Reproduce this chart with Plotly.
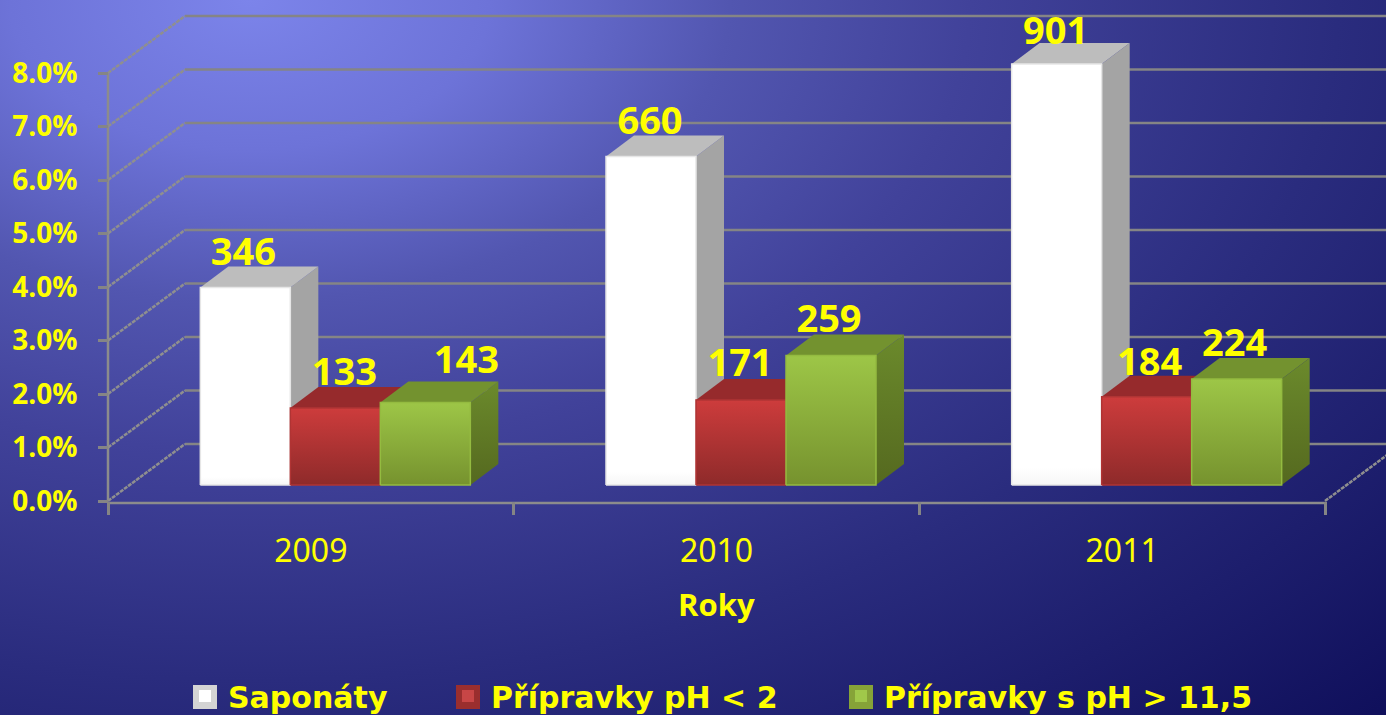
import plotly.graph_objects as go

# ---- data ----
years = ["2009", "2010", "2011"]
series_names = ["Saponáty", "Přípravky pH < 2", "Přípravky s pH > 11,5"]
saponaty = [3.69, 6.14, 7.87]
ph_low = [1.44, 1.59, 1.65]
ph_high = [1.54, 2.42, 1.98]
saponaty_labels = ["346", "660", "901"]
ph_low_labels = ["133", "171", "184"]
ph_high_labels = ["143", "259", "224"]
y_ticks = [0, 1, 2, 3, 4, 5, 6, 7, 8]
y_tick_labels = ["0.0%", "1.0%", "2.0%", "3.0%", "4.0%", "5.0%", "6.0%", "7.0%", "8.0%"]

# ---- pixel layout of the front plane ----
W, H = 1386, 715
PX_L, PX_R, PX_B, PX_T = 108, 1325, 501, 73
PX_PER_X = (PX_R - PX_L) / 3
PX_PER_Y = (PX_B - PX_T) / 8
YEL = "#ffff00"
GRID = "#858585"
FONT = "Open Sans"


def ux(px):
    return px / PX_PER_X


def uy(px):
    return px / PX_PER_Y


WALL_DX, WALL_DY = ux(77), uy(57)      # floor depth
BAR_DX, BAR_DY = ux(28), uy(21)        # depth of a bar
FLOOR = uy(16)                         # bars stand inside the floor
SHIFT = ux(24.5)                       # ... and so sit right of slot centre
BAR_W = ux(90)

styles = [
    dict(front=[[0, "#f6f6f6"], [0.04, "#ffffff"], [1, "#ffffff"]], side=[[0, "#a4a4a4"], [1, "#a4a4a4"]],
         top="#bdbdbd", edge="#e6e6e6", base="#ffffff", rim="#d4d4d4"),
    dict(front=[[0, "#8e2a2a"], [1, "#cd3c3c"]], side=[[0, "#742020"], [1, "#8a2626"]],
         top="#962a2c", edge="#b03434", base="#c84646", rim="#9a2e2e"),
    dict(front=[[0, "#76922e"], [1, "#9dc647"]], side=[[0, "#55691f"], [1, "#6b8a2c"]],
         top="#73922f", edge="#94bb40", base="#a0c84a", rim="#86a338"),
]
series = [saponaty, ph_low, ph_high]
labels = [saponaty_labels, ph_low_labels, ph_high_labels]
label_shift_px = [[-2, -1, -1], [9, -1, 3], [41, -2, -2]]
label_rise_px = [[32, 32, 29], [32, 33, 31], [39, 33, 33]]

fig = go.Figure()

# ---- page background ----
CX, CY, RX, RY = 250, 0, 1600, 1000
fig.add_trace(go.Scatter(
    x=[CX - RX, CX + RX, CX + RX, CX - RX, CX - RX],
    y=[CY - RY, CY - RY, CY + RY, CY + RY, CY - RY],
    mode="lines", line=dict(width=0), fill="toself", hoverinfo="skip", showlegend=False,
    fillgradient=dict(type="radial", colorscale=[
        [0, "#7c84ea"], [0.15, "#6d73d8"], [0.3, "#5256b0"], [0.45, "#41429a"],
        [0.68, "#2a2c7e"], [1, "#10105c"]]),
    xaxis="x", yaxis="y"))

CHART = dict(xaxis="x2", yaxis="y2", cliponaxis=False, hoverinfo="skip", showlegend=False)

# ---- real bars (carry the data and the legend) ----
slot_centres = [i + 0.5 + SHIFT for i in range(len(years))]
for s, vals in enumerate(series):
    fig.add_trace(go.Bar(
        x=slot_centres, y=vals, base=FLOOR, name=series_names[s],
        marker=dict(color=styles[s]["base"], line=dict(width=0)),
        xaxis="x2", yaxis="y2",
        legend="legend" if s == 0 else f"legend{s + 1}"))

# ---- walls ----
for v in y_ticks:
    fig.add_trace(go.Scatter(
        x=[WALL_DX, 3 + WALL_DX], y=[v + WALL_DY, v + WALL_DY],
        mode="lines", line=dict(color=GRID, width=2.5), **CHART))
    fig.add_trace(go.Scatter(
        x=[0, WALL_DX], y=[v, v + WALL_DY],
        mode="lines", line=dict(color="#8f8f8f", width=2.5, dash="4px,1px"), **CHART))
fig.add_trace(go.Scatter(
    x=[3, 3 + WALL_DX], y=[0, WALL_DY],
    mode="lines", line=dict(color="#8f8f8f", width=2.5, dash="4px,1px"), **CHART))
# axis lines
fig.add_trace(go.Scatter(x=[0, 0], y=[0, 8], mode="lines", line=dict(color="#8c8c8c", width=2.5), **CHART))
fig.add_trace(go.Scatter(x=[0, 3], y=[-uy(2), -uy(2)], mode="lines", line=dict(color="#8c8c8c", width=2.5), **CHART))


# ---- 3-D faces ----
def face(xs, ys, **kw):
    fig.add_trace(go.Scatter(x=xs, y=ys, mode="lines", fill="toself", **kw, **CHART))


for g in range(len(years)):
    for s, vals in enumerate(series):
        st = styles[s]
        left = slot_centres[g] + (s - 1.5) * BAR_W
        right = left + BAR_W
        bottom = FLOOR
        top = FLOOR + vals[g]
        # side
        face([right, right + BAR_DX, right + BAR_DX, right, right],
             [bottom, bottom + BAR_DY, top + BAR_DY, top, bottom],
             line=dict(width=0),
             fillgradient=dict(type="vertical", colorscale=st["side"], start=bottom, stop=top + BAR_DY))
        # top
        face([left, left + BAR_DX, right + BAR_DX, right, left],
             [top, top + BAR_DY, top + BAR_DY, top, top],
             line=dict(width=0), fillcolor=st["top"])
        # front with vertical shading
        face([left, right, right, left, left],
             [bottom, bottom, top, top, bottom],
             line=dict(width=1.5, color=st["edge"]),
             fillgradient=dict(type="vertical", colorscale=st["front"], start=bottom, stop=top))

# ---- value labels ----
for s, vals in enumerate(series):
    fig.add_trace(go.Scatter(
        x=[slot_centres[g] + (s - 1) * BAR_W + ux(label_shift_px[s][g]) for g in range(3)],
        y=[FLOOR + vals[g] + uy(label_rise_px[s][g]) for g in range(3)],
        text=labels[s], mode="text", textposition="middle center",
        textfont=dict(family=FONT, size=38, color=YEL, weight="bold"), **CHART))

# ---- legend swatches behind the legend icons ----
shapes = []
for px, st in zip([193, 456, 849], styles):
    shapes.append(dict(type="rect", xref="paper", yref="paper",
                       x0=px / W, x1=(px + 24) / W, y0=(H - 709) / H, y1=(H - 685) / H,
                       fillcolor=st["rim"], line=dict(width=0), layer="above"))

legend_common = dict(orientation="h", xanchor="left", yanchor="middle", y=(H - 696) / H,
                     bgcolor="rgba(0,0,0,0)", borderwidth=0, itemclick=False, itemdoubleclick=False,
                     itemwidth=36,
                     font=dict(family="DejaVu Sans", size=30, color=YEL, weight="bold"))

fig.update_layout(
    width=W, height=H, margin=dict(l=0, r=0, t=0, b=0, pad=0, autoexpand=False),
    paper_bgcolor="#10105c", plot_bgcolor="rgba(0,0,0,0)",
    barmode="group", bargap=1 - 3 * BAR_W, bargroupgap=0,
    showlegend=True, shapes=shapes,
    legend=dict(x=182 / W, **legend_common),
    legend2=dict(x=445 / W, **legend_common),
    legend3=dict(x=838 / W, **legend_common),
    annotations=[dict(text="Roky", xref="x2", yref="paper", x=1.5, y=(H - 604) / H,
                      xanchor="center", yanchor="middle", showarrow=False,
                      font=dict(family=FONT, size=31, color=YEL, weight="bold"))],
    xaxis=dict(domain=[0, 1], range=[0, W], visible=False, fixedrange=True),
    yaxis=dict(domain=[0, 1], range=[H, 0], visible=False, fixedrange=True),
    xaxis2=dict(
        domain=[0, 1], range=[-ux(PX_L), ux(W - PX_L)], anchor="free", position=(H - PX_B) / H,
        tickmode="array", tickvals=[0.5, 1.5, 2.5], ticktext=years, ticks="",
        ticklabelstandoff=28, tickfont=dict(family="Noto Sans", size=32, color=YEL),
        minor=dict(tickmode="array", tickvals=[0, 1, 2, 3], ticks="outside", ticklen=13,
                   tickwidth=3, tickcolor=GRID),
        showgrid=False, zeroline=False, showline=False,
        fixedrange=True),
    yaxis2=dict(
        domain=[0, 1], range=[-uy(H - PX_B), uy(PX_B)], anchor="free", position=PX_L / W,
        tickmode="array", tickvals=y_ticks, ticktext=y_tick_labels,
        ticks="outside", ticklen=10, tickwidth=2.5, tickcolor=GRID,
        ticklabelstandoff=15, tickfont=dict(family=FONT, size=28, color=YEL, weight="bold"),
        showgrid=False, zeroline=False, showline=False,
        fixedrange=True),
)

fig.write_html("out.html", config=dict(displayModeBar=False),
               post_script="document.body.style.margin='0';document.body.style.overflow='hidden';")
